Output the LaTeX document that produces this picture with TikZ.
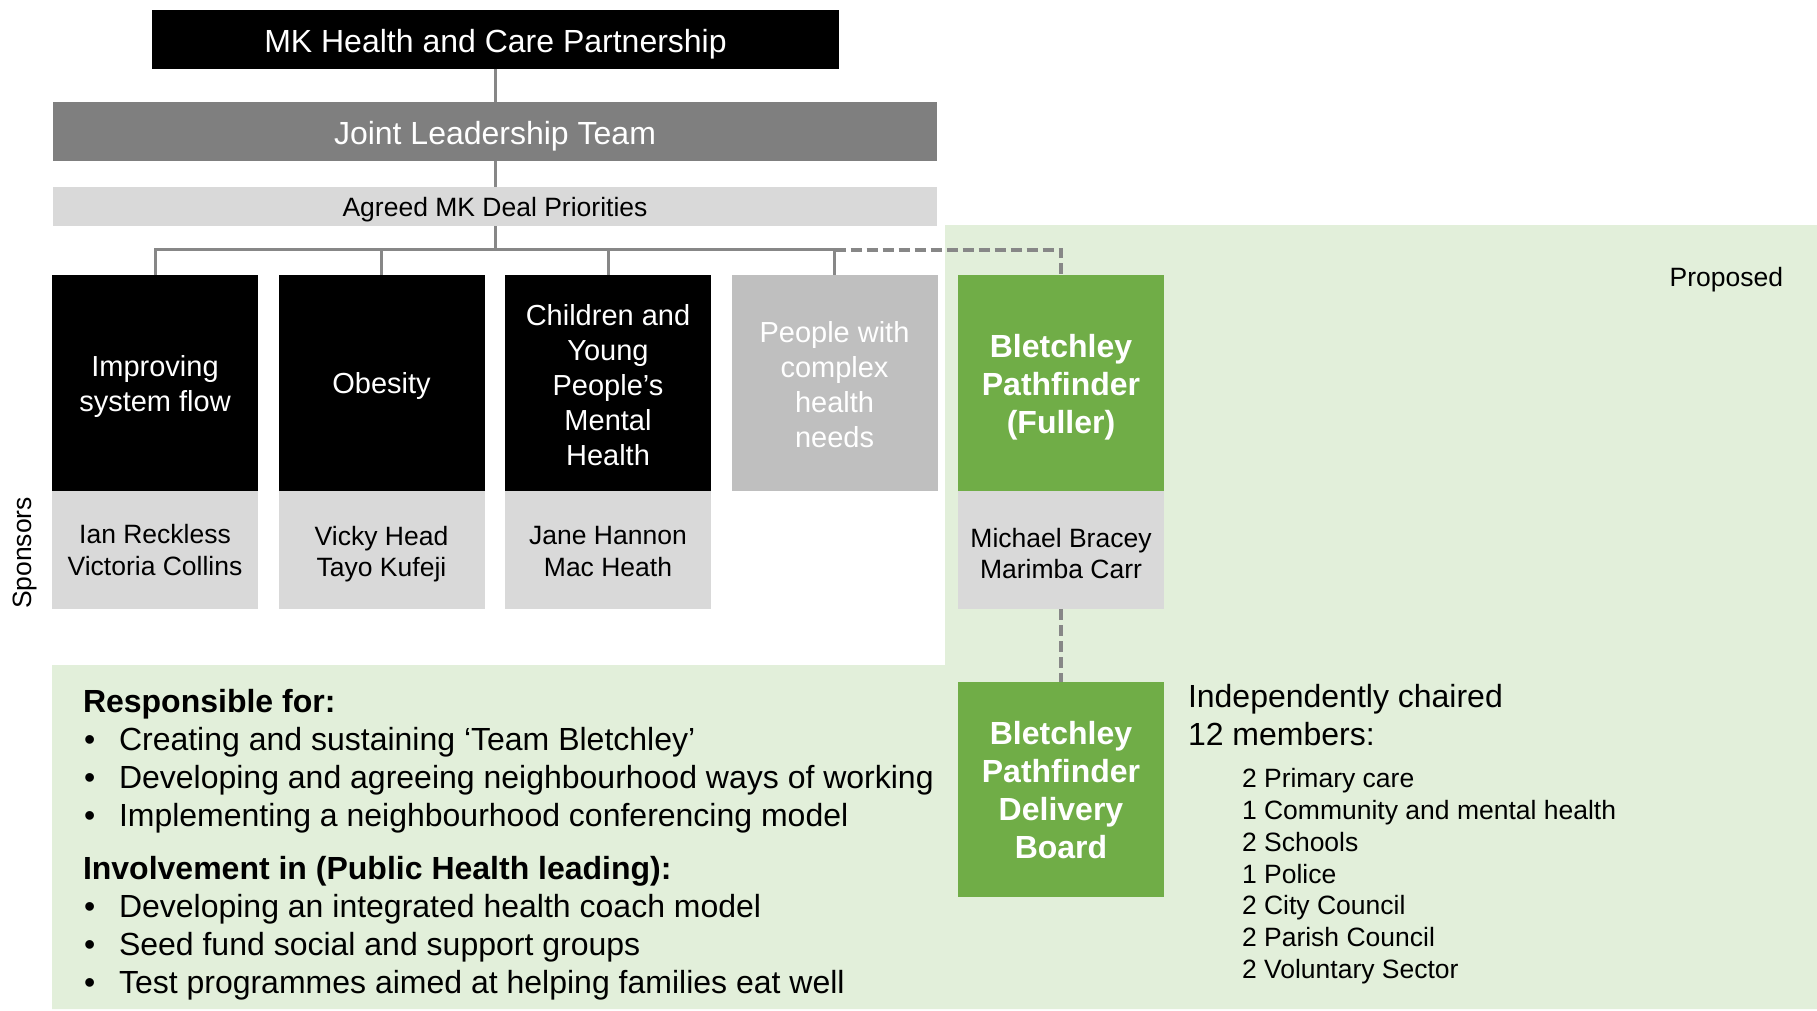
\documentclass[tikz,border=0pt]{standalone}
\usepackage{fontspec}
\setmainfont{Liberation Sans}
\definecolor{bggreen}{HTML}{E2EFDA}
\definecolor{boxgreen}{HTML}{70AD47}
\definecolor{sponsorgrey}{HTML}{D9D9D9}
\definecolor{jltgrey}{HTML}{7F7F7F}
\definecolor{peoplegrey}{HTML}{BFBFBF}
\definecolor{linegrey}{HTML}{878787}
\begin{document}
\begin{tikzpicture}[x=1pt,y=-1pt,
  every node/.style={inner sep=0pt, outer sep=0pt},
  topbox/.style={rectangle, minimum width=206pt, minimum height=216pt},
  namebox/.style={rectangle, fill=sponsorgrey, minimum width=206pt, minimum height=118pt},
  toplbl/.style={align=center, font=\fontsize{29}{35}\selectfont, text=white},
  namelbl/.style={align=center, font=\fontsize{26.5}{31.5}\selectfont},
  greenlbl/.style={align=center, font=\bfseries\fontsize{32}{38}\selectfont, text=white},
  bodytxt/.style={anchor=base west, font=\fontsize{32}{38}\selectfont},
  bodybold/.style={anchor=base west, font=\bfseries\fontsize{32}{38}\selectfont},
  membertxt/.style={anchor=base west, font=\fontsize{26.5}{32}\selectfont},
  conn/.style={draw=linegrey, line width=3pt},
  dconn/.style={draw=linegrey, line width=4pt, dash pattern=on 11pt off 5pt}]

\useasboundingbox (0,0) rectangle (1817,1011);
\fill[white] (0,0) rectangle (1817,1011);
\fill[bggreen] (945,225) -- (1817,225) -- (1817,1009) -- (52,1009) -- (52,665) -- (945,665) -- cycle;

% top hierarchy
\node[fill=black, minimum width=687pt, minimum height=59pt] (mk) at (495.5,39.5) {};
\node[text=white, font=\fontsize{32}{38}\selectfont, yshift=-4.6pt] (mkt) at (mk.center) {MK Health and Care Partnership};

\node[fill=jltgrey, minimum width=884pt, minimum height=59pt] (jlt) at (495,131.5) {};
\node[text=white, font=\fontsize{32}{38}\selectfont, yshift=-5pt] (jltt) at (jlt.center) {Joint Leadership Team};

\node[fill=sponsorgrey, minimum width=884pt, minimum height=39pt] (agreed) at (495,206.5) {};
\node[font=\fontsize{26.5}{32}\selectfont, yshift=-3.6pt] (agreedt) at (agreed.center) {Agreed MK Deal Priorities};

% priority boxes
\node[topbox, fill=black] (p1) at (155,383) {};
\node[topbox, fill=black] (p2) at (381.5,383) {};
\node[topbox, fill=black] (p3) at (608,383) {};
\node[topbox, fill=peoplegrey] (p4) at (834.5,383) {};
\node[topbox, fill=boxgreen] (pg) at (1061,383) {};

\node[toplbl, yshift=-3pt] (p1t) at (p1.center) {Improving\\system flow};
\node[toplbl, yshift=-3pt] (p2t) at (p2.center) {Obesity};
\node[toplbl, yshift=-2pt] (p3t) at (p3.center) {Children and\\Young\\People’s\\Mental\\Health};
\node[toplbl, yshift=-1.5pt] (p4t) at (p4.center) {People with\\complex\\health\\needs};
\node[greenlbl, yshift=-4pt] (pgt) at (pg.center) {Bletchley\\Pathfinder\\(Fuller)};

% sponsor boxes
\node[namebox] (s1) at (155,550) {};
\node[namebox] (s2) at (381.5,550) {};
\node[namebox] (s3) at (608,550) {};
\node[namebox] (sg) at (1061,550) {};

\node[namelbl, yshift=0pt] (s1t) at (s1.center) {Ian Reckless\\Victoria Collins};
\node[namelbl, yshift=-4pt] (s2t) at (s2.center) {Vicky Head\\Tayo Kufeji};
\node[namelbl, yshift=-1.5pt] (s3t) at (s3.center) {Jane Hannon\\Mac Heath};
\node[namelbl, yshift=-3.5pt] (sgt) at (sg.center) {Michael Bracey\\Marimba Carr};

\node[rotate=90, font=\fontsize{26.5}{32}\selectfont] (spons) at (25,553) {Sponsors};

% delivery board
\node[topbox, fill=boxgreen, minimum height=215pt] (board) at (1061,789.5) {};
\node[greenlbl, yshift=-1pt] (boardt) at (board.center) {Bletchley\\Pathfinder\\Delivery\\Board};

% connectors
\coordinate (barR) at (834.5,249.5);
\draw[conn] (mk.south) -- (mk.south |- jlt.north);
\draw[conn] (jlt.south) -- (jlt.south |- agreed.north);
\draw[conn] (agreed.south) -- (agreed.south |- barR);
\draw[conn] (p1.north) |- (barR) -- (p4.north);
\draw[conn] (p2.north |- barR) -- (p2.north);
\draw[conn] (p3.north |- barR) -- (p3.north);
\draw[dconn] (barR) -| (pg.north);
\draw[dconn] (sg.south) -- (board.north);

\node[anchor=base east, font=\fontsize{26.5}{32}\selectfont] (prop) at (1783,286) {Proposed};

% lower left text
\node[bodybold] (resp) at (83,712) {Responsible for:};
\node[bodytxt] (d1) at (84,750) {•};
\node[bodytxt] (r1) at (119,750) {Creating and sustaining ‘Team Bletchley’};
\node[bodytxt] (d2) at (84,788) {•};
\node[bodytxt] (r2) at (119,788) {Developing and agreeing neighbourhood ways of working};
\node[bodytxt] (d3) at (84,826) {•};
\node[bodytxt] (r3) at (119,826) {Implementing a neighbourhood conferencing model};
\node[bodybold] (inv) at (83,879) {Involvement in (Public Health leading):};
\node[bodytxt] (d4) at (84,917) {•};
\node[bodytxt] (i1) at (119,917) {Developing an integrated health coach model};
\node[bodytxt] (d5) at (84,955) {•};
\node[bodytxt] (i2) at (119,955) {Seed fund social and support groups};
\node[bodytxt] (d6) at (84,993) {•};
\node[bodytxt] (i3) at (119,993) {Test programmes aimed at helping families eat well};

% right text
\node[bodytxt] (chair) at (1188,707) {Independently chaired};
\node[bodytxt] (memb) at (1188,745) {12 members:};
\node[membertxt] (m1) at (1242,787) {2 Primary care};
\node[membertxt] (m2) at (1242,819) {1 Community and mental health};
\node[membertxt] (m3) at (1242,851) {2 Schools};
\node[membertxt] (m4) at (1242,883) {1 Police};
\node[membertxt] (m5) at (1242,914) {2 City Council};
\node[membertxt] (m6) at (1242,946) {2 Parish Council};
\node[membertxt] (m7) at (1242,978) {2 Voluntary Sector};
\end{tikzpicture}
\end{document}
